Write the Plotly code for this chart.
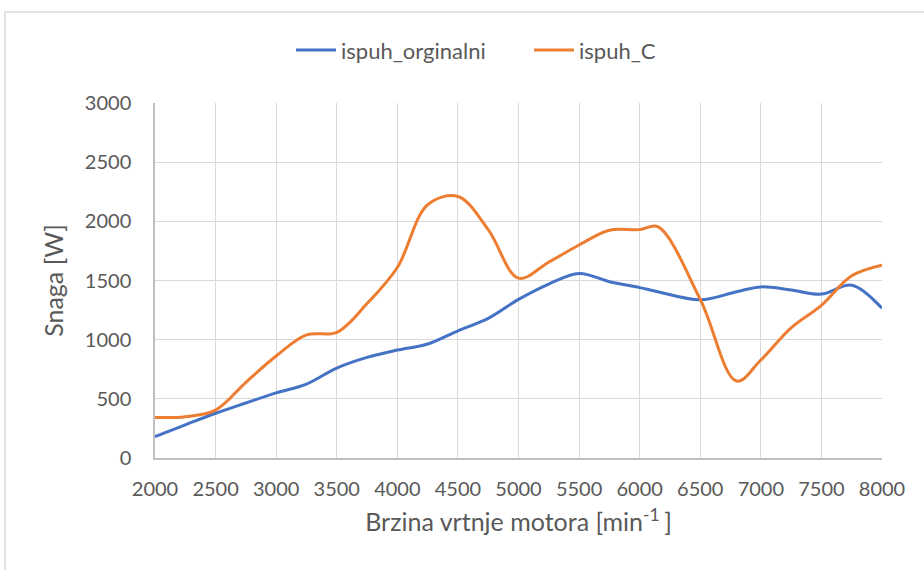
import plotly.graph_objects as go

# Engine speed [min^-1]
rpm = [2000, 2250, 2500, 2750, 3000, 3250, 3500, 3750, 4000, 4250, 4500, 4750, 5000,
       5250, 5500, 5750, 6000, 6150, 6500, 6800, 7000, 7250, 7500, 7750, 8000]

# Power [W]
ispuh_orginalni = [180, 280, 378, 465, 550, 625, 760, 850, 912, 963, 1075, 1180, 1340,
                   1470, 1560, 1490, 1440, 1405, 1337, 1405, 1446, 1420, 1385, 1460, 1265]
ispuh_C = [342, 349, 405, 640, 862, 1040, 1062, 1305, 1610, 2140, 2210, 1930, 1520,
           1655, 1800, 1925, 1930, 1955, 1340, 650, 828, 1100, 1290, 1540, 1630]

x_ticks = [2000, 2500, 3000, 3500, 4000, 4500, 5000, 5500, 6000, 6500, 7000, 7500, 8000]
y_ticks = [0, 500, 1000, 1500, 2000, 2500, 3000]

FONT = "Lato"
TXT = "#595959"

fig = go.Figure()
fig.add_trace(go.Scatter(x=rpm, y=ispuh_orginalni, name="ispuh_orginalni", mode="lines",
                         line=dict(color="#4472C4", width=3, shape="spline", smoothing=1)))
fig.add_trace(go.Scatter(x=rpm, y=ispuh_C, name="ispuh_C", mode="lines",
                         line=dict(color="#ED7D31", width=3, shape="spline", smoothing=1)))

fig.update_layout(
    width=924, height=570,
    margin=dict(l=155, r=42, t=103, b=112),
    paper_bgcolor="white", plot_bgcolor="white",
    font=dict(family=FONT, size=20, color=TXT),
    legend=dict(orientation="h", xref="container", yref="container",
                x=0.315, y=0.912, xanchor="left", yanchor="middle",
                entrywidth=183, entrywidthmode="pixels",
                font=dict(family=FONT, size=22, color=TXT), itemwidth=40),
    xaxis=dict(range=[2000, 8000], tickvals=x_ticks, ticktext=[str(v) for v in x_ticks],
               showgrid=True, gridcolor="#d9d9d9", gridwidth=1.3,
               showline=True, linecolor="#bfbfbf", linewidth=1.5,
               ticks="", ticklabelstandoff=12, zeroline=False,
               tickfont=dict(family=FONT, size=20, color=TXT),
               title=dict(text="Brzina vrtnje motora [min<sup>-1 </sup>]", standoff=15,
                          font=dict(family=FONT, size=25, color=TXT))),
    yaxis=dict(range=[0, 3000], tickvals=y_ticks, ticktext=[str(v) for v in y_ticks],
               showgrid=True, gridcolor="#d9d9d9", gridwidth=1.3,
               showline=True, linecolor="#bfbfbf", linewidth=1.5,
               ticks="", ticklabelstandoff=18, zeroline=False,
               tickfont=dict(family=FONT, size=20, color=TXT),
               title=dict(text="Snaga [W]", standoff=14,
                          font=dict(family=FONT, size=25, color=TXT))),
    shapes=[dict(type="rect", xref="paper", yref="paper",
                 x0=(5 - 155) / 727, x1=(935 - 155) / 727,
                 y0=(458 - 585) / 355, y1=(458 - 12) / 355,
                 line=dict(color="#d9d9d9", width=1.5), fillcolor="rgba(0,0,0,0)",
                 layer="below")],
)

fig.write_html("out.html")
